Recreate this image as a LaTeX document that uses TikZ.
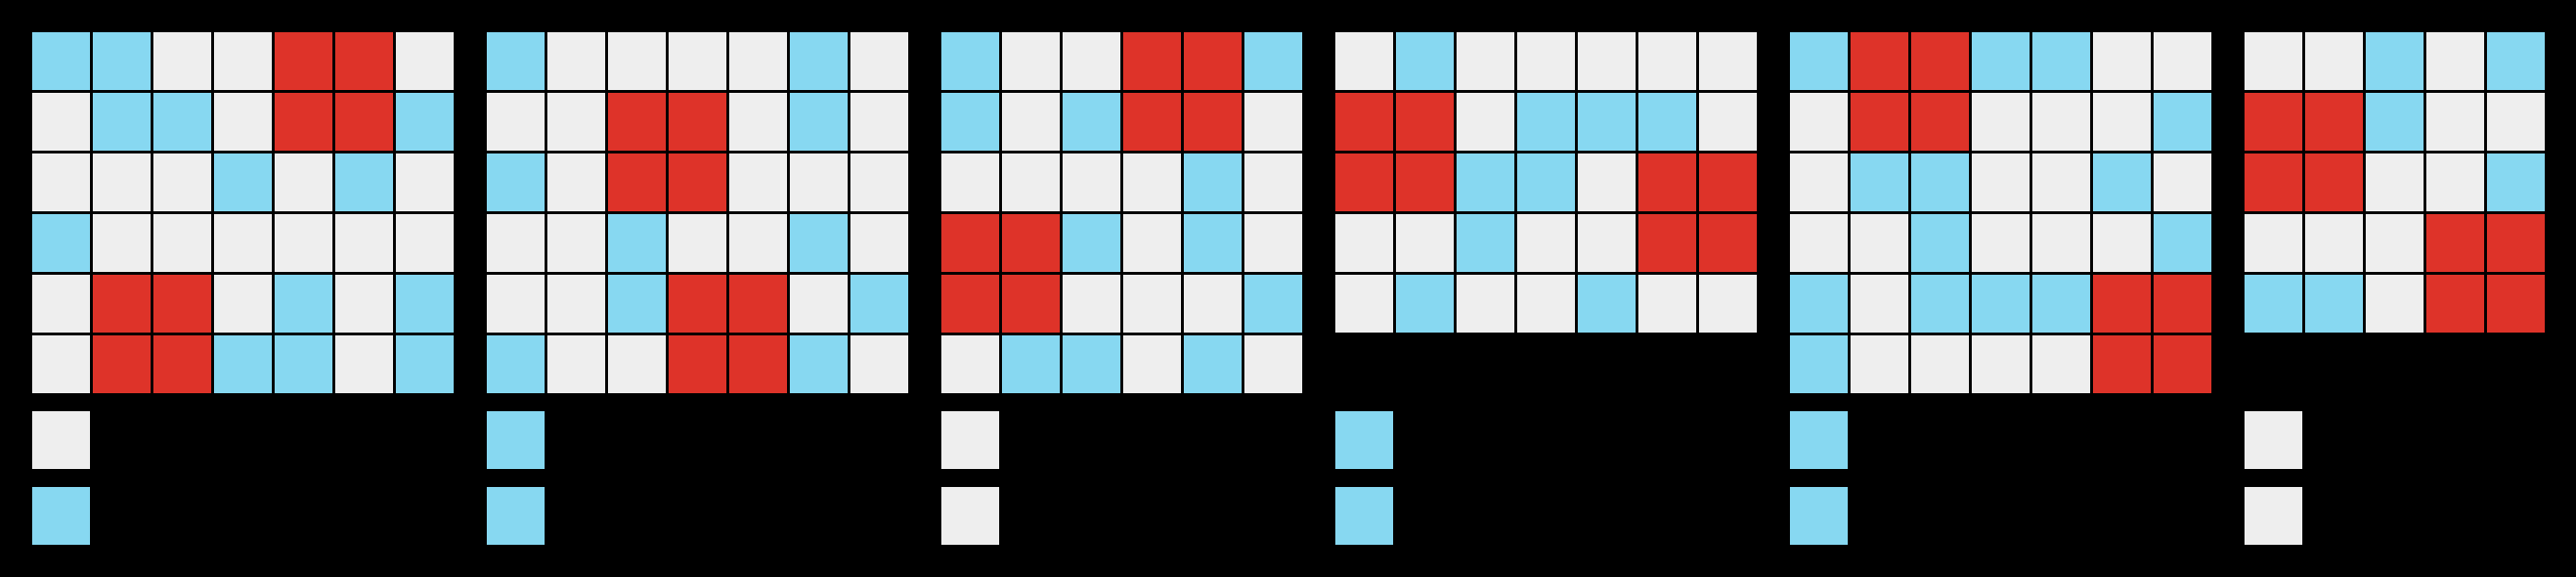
\documentclass[tikz,border=0pt]{standalone}
\usetikzlibrary{positioning}
\definecolor{cellg}{RGB}{238,238,238}
\definecolor{cellb}{RGB}{135,216,241}
\definecolor{cellr}{RGB}{222,51,41}

\begin{document}
\begin{tikzpicture}[x=0.64cm,y=-0.64cm,
                     cell/.style={rectangle,draw=black,line width=0.03cm,minimum size=0.64cm,inner sep=0pt,outer sep=0pt}
                    ]
   \useasboundingbox (0,0) rectangle (42.5,9.5);
   \fill[black] (-0.2,-0.2) rectangle (42.7,9.7);
   % panel 1
   \foreach \row [count=\j] in {{b,b,g,g,r,r,g},{g,b,b,g,r,r,b},{g,g,g,b,g,b,g},{b,g,g,g,g,g,g},{g,r,r,g,b,g,b},{g,r,r,b,b,g,b}}
     \foreach \c [count=\i] in \row
       \node[cell,fill=cell\c] (p1-\j-\i) at (\i,\j) {};
   \node[cell,fill=cellg] (p1-s1) at (1,7.25) {};
   \node[cell,fill=cellb] (p1-s2) at (1,8.5) {};
   % panel 2
   \foreach \row [count=\j] in {{b,g,g,g,g,b,g},{g,g,r,r,g,b,g},{b,g,r,r,g,g,g},{g,g,b,g,g,b,g},{g,g,b,r,r,g,b},{b,g,g,r,r,b,g}}
     \foreach \c [count=\i] in \row
       \node[cell,fill=cell\c] (p2-\j-\i) at (7.5+\i,\j) {};
   \node[cell,fill=cellb] (p2-s1) at (8.5,7.25) {};
   \node[cell,fill=cellb] (p2-s2) at (8.5,8.5) {};
   % panel 3
   \foreach \row [count=\j] in {{b,g,g,r,r,b},{b,g,b,r,r,g},{g,g,g,g,b,g},{r,r,b,g,b,g},{r,r,g,g,g,b},{g,b,b,g,b,g}}
     \foreach \c [count=\i] in \row
       \node[cell,fill=cell\c] (p3-\j-\i) at (15+\i,\j) {};
   \node[cell,fill=cellg] (p3-s1) at (16,7.25) {};
   \node[cell,fill=cellg] (p3-s2) at (16,8.5) {};
   % panel 4
   \foreach \row [count=\j] in {{g,b,g,g,g,g,g},{r,r,g,b,b,b,g},{r,r,b,b,g,r,r},{g,g,b,g,g,r,r},{g,b,g,g,b,g,g}}
     \foreach \c [count=\i] in \row
       \node[cell,fill=cell\c] (p4-\j-\i) at (21.5+\i,\j) {};
   \node[cell,fill=cellb] (p4-s1) at (22.5,7.25) {};
   \node[cell,fill=cellb] (p4-s2) at (22.5,8.5) {};
   % panel 5
   \foreach \row [count=\j] in {{b,r,r,b,b,g,g},{g,r,r,g,g,g,b},{g,b,b,g,g,b,g},{g,g,b,g,g,g,b},{b,g,b,b,b,r,r},{b,g,g,g,g,r,r}}
     \foreach \c [count=\i] in \row
       \node[cell,fill=cell\c] (p5-\j-\i) at (29+\i,\j) {};
   \node[cell,fill=cellb] (p5-s1) at (30,7.25) {};
   \node[cell,fill=cellb] (p5-s2) at (30,8.5) {};
   % panel 6
   \foreach \row [count=\j] in {{g,g,b,g,b},{r,r,b,g,g},{r,r,g,g,b},{g,g,g,r,r},{b,b,g,r,r}}
     \foreach \c [count=\i] in \row
       \node[cell,fill=cell\c] (p6-\j-\i) at (36.5+\i,\j) {};
   \node[cell,fill=cellg] (p6-s1) at (37.5,7.25) {};
   \node[cell,fill=cellg] (p6-s2) at (37.5,8.5) {};
\end{tikzpicture}
\end{document}
